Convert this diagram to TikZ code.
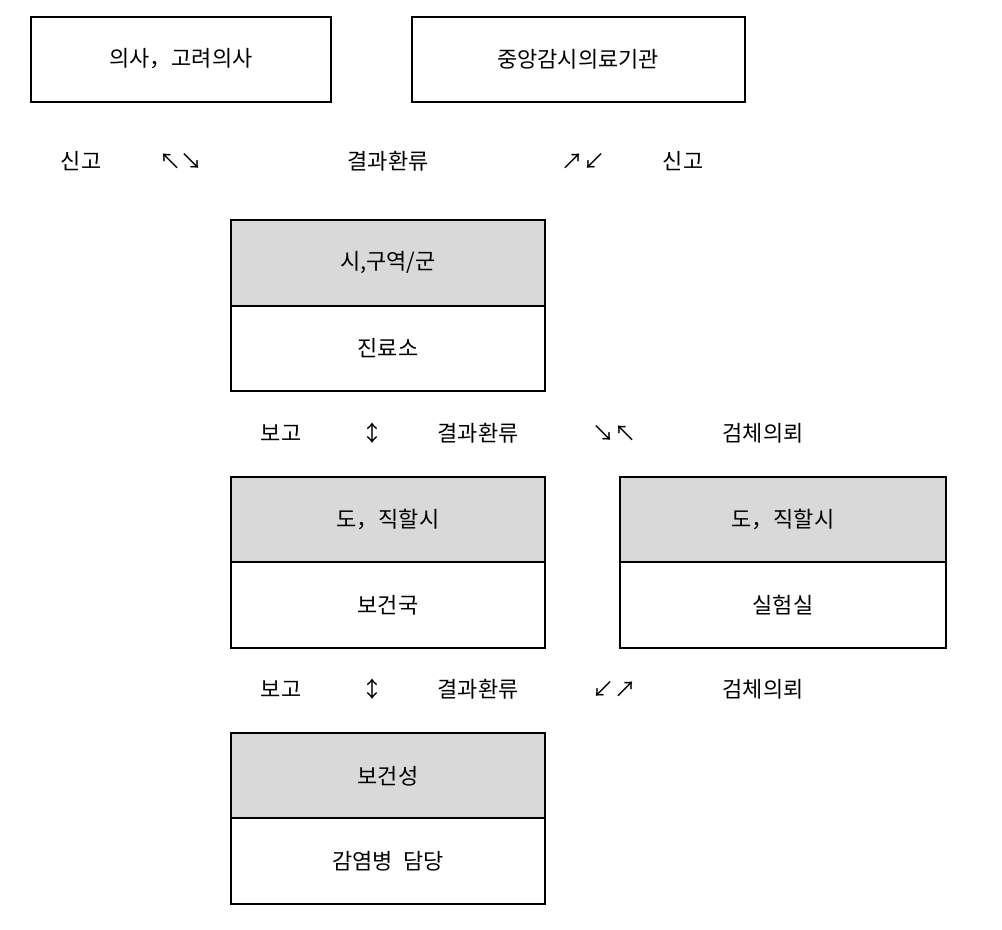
\documentclass[tikz,border=0pt]{standalone}
\usepackage{fontspec}
\setmainfont{Noto Sans CJK KR}
\definecolor{boxgray}{HTML}{D9D9D9}
\tikzset{
  lbl/.style={inner sep=0pt},
  arr/.style={inner sep=0pt, font=\fontsize{12.5}{14}\selectfont},
  frame/.style={draw=black, line width=0.6pt},
  headbox/.style={frame, fill=boxgray}
}
\begin{document}
\begin{tikzpicture}[x=0.02cm, y=-0.02cm, font=\fontsize{12.5}{14}\selectfont, line join=miter]
		\useasboundingbox (0,0) rectangle (1002,930);
		% top boxes
		\draw[frame] (31,17) rectangle (331,102);
		\node[lbl] (doctor) at (181,59) {의사，고려의사};
		\draw[frame] (412,17) rectangle (745,102);
		\node[lbl] (center) at (578,59) {중앙감시의료기관};
		% first row
		\node[lbl] (rep1) at (81,161) {신고};
		\node[arr] (a1) at (181,161) {↖↘};
		\node[lbl] (fb1) at (388,161) {결과환류};
		\node[arr] (a2) at (583,161) {↗↙};
		\node[lbl] (rep2) at (683,161) {신고};
		% city / district
		\draw[headbox] (231,220) rectangle (545,306);
		\draw[frame] (231,306) rectangle (545,391);
		\node[lbl] (city) at (388,263) {시,구역/군};
		\node[lbl] (clinic) at (388,348) {진료소};
		% second row
		\node[lbl] (rep3) at (281,433) {보고};
		\node[arr] (a3) at (372,433) {↕};
		\node[lbl] (fb2) at (478,433) {결과환류};
		\node[arr] (a4) at (614,433) {↘↖};
		\node[lbl] (req1) at (763,433) {검체의뢰};
		% province: health bureau
		\draw[headbox] (231,477) rectangle (545,562);
		\draw[frame] (231,562) rectangle (545,648);
		\node[lbl] (prov1) at (388,519) {도，직할시};
		\node[lbl] (bureau) at (388,605) {보건국};
		% province: laboratory
		\draw[headbox] (620,477) rectangle (946,562);
		\draw[frame] (620,562) rectangle (946,648);
		\node[lbl] (prov2) at (783,519) {도，직할시};
		\node[lbl] (lab) at (783,605) {실험실};
		% third row
		\node[lbl] (rep4) at (281,689) {보고};
		\node[arr] (a5) at (372,689) {↕};
		\node[lbl] (fb3) at (478,689) {결과환류};
		\node[arr] (a6) at (614,689) {↙↗};
		\node[lbl] (req2) at (763,689) {검체의뢰};
		% ministry
		\draw[headbox] (231,733) rectangle (545,818);
		\draw[frame] (231,818) rectangle (545,904);
		\node[lbl] (ministry) at (388,776) {보건성};
		\node[lbl] (infect) at (388,861) {감염병\ \ 담당};
	\end{tikzpicture}
\end{document}
